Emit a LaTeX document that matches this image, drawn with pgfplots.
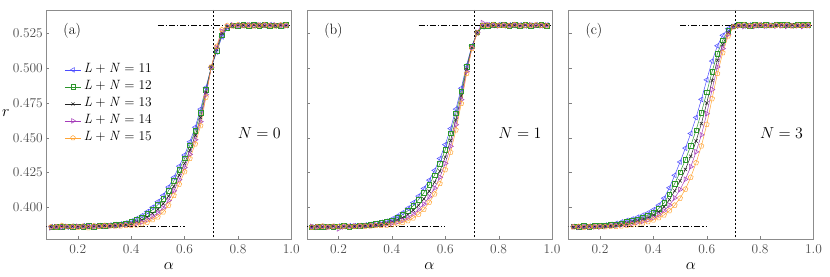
\RequirePackage{fix-cm}
\documentclass[border=0pt]{standalone}
\usepackage{pgfplots}
\usepackage{pgfplotstable}
\pgfplotsset{compat=1.18}
\definecolor{c11}{RGB}{75,75,255}
\definecolor{c12}{RGB}{45,150,45}
\definecolor{c13}{RGB}{35,35,35}
\definecolor{c14}{RGB}{165,60,185}
\definecolor{c15}{RGB}{255,165,55}
\newcommand{\LN}[1]{\textit{L}\hspace{0.25em}+\hspace{0.25em}\textit{N}\hspace{0.3em}=\hspace{0.3em}#1}

\pgfplotstableread{
x s11 s12 s13 s14 s15
0.10 .3860 .3857 .3858 .3853 .3860
0.12 .3857 .3862 .3859 .3861 .3858
0.14 .3863 .3859 .3862 .3857 .3868
0.16 .3858 .3863 .3860 .3862 .3859
0.18 .3864 .3861 .3863 .3858 .3862
0.20 .3860 .3865 .3861 .3863 .3857
0.22 .3866 .3860 .3862 .3859 .3864
0.24 .3861 .3866 .3863 .3864 .3852
0.26 .3865 .3862 .3864 .3860 .3866
0.28 .3868 .3867 .3865 .3863 .3862
0.30 .3869 .3866 .3867 .3864 .3868
0.32 .3872 .3870 .3868 .3866 .3865
0.34 .3875 .3873 .3870 .3867 .3865
0.36 .3880 .3877 .3873 .3870 .3866
0.38 .3888 .3884 .3878 .3873 .3868
0.40 .3900 .3894 .3885 .3878 .3870
0.42 .3918 .3909 .3895 .3884 .3873
0.44 .3940 .3928 .3910 .3895 .3880
0.46 .3968 .3953 .3930 .3911 .3893
0.48 .4000 .3982 .3955 .3933 .3910
0.50 .4040 .4018 .3985 .3958 .3930
0.52 .4085 .4061 .4025 .3995 .3965
0.54 .4145 .4119 .4080 .4048 .4015
0.56 .4215 .4189 .4150 .4118 .4085
0.58 .4295 .4269 .4230 .4198 .4165
0.60 .4375 .4351 .4315 .4285 .4255
0.62 .4470 .4446 .4410 .4380 .4350
0.64 .4575 .4551 .4515 .4485 .4455
0.66 .4705 .4681 .4645 .4615 .4585
0.68 .4860 .4846 .4825 .4808 .4790
0.70 .5003 .5006 .5005 .5004 .5007
0.72 .5115 .5123 .5135 .5145 .5155
0.74 .5225 .5235 .5250 .5263 .5275
0.76 .5285 .5289 .5295 .5300 .5305
0.78 .5303 .5308 .5305 .5310 .5302
0.80 .5309 .5304 .5307 .5303 .5310
0.82 .5305 .5312 .5308 .5306 .5304
0.84 .5310 .5306 .5304 .5309 .5307
0.86 .5304 .5309 .5311 .5305 .5302
0.88 .5308 .5303 .5306 .5310 .5306
0.90 .5306 .5310 .5303 .5307 .5309
0.92 .5311 .5305 .5308 .5304 .5305
0.94 .5303 .5308 .5306 .5310 .5302
0.96 .5308 .5304 .5309 .5306 .5309
0.98 .5305 .5310 .5305 .5303 .5307
}\tabA

\pgfplotstableread{
x s11 s12 s13 s14 s15
0.10 .3860 .3856 .3858 .3862 .3857
0.12 .3858 .3861 .3863 .3857 .3860
0.14 .3863 .3858 .3859 .3861 .3864
0.16 .3859 .3864 .3861 .3856 .3858
0.18 .3862 .3860 .3864 .3860 .3863
0.20 .3865 .3863 .3860 .3845 .3859
0.22 .3861 .3866 .3862 .3860 .3864
0.24 .3866 .3862 .3865 .3863 .3860
0.26 .3868 .3865 .3863 .3866 .3862
0.28 .3869 .3867 .3866 .3864 .3865
0.30 .3872 .3870 .3868 .3866 .3864
0.32 .3877 .3874 .3871 .3868 .3866
0.34 .3883 .3880 .3875 .3871 .3868
0.36 .3891 .3887 .3880 .3875 .3869
0.38 .3900 .3894 .3885 .3878 .3870
0.40 .3915 .3907 .3895 .3885 .3875
0.42 .3936 .3925 .3908 .3894 .3881
0.44 .3960 .3946 .3925 .3908 .3890
0.46 .3993 .3975 .3948 .3926 .3903
0.48 .4033 .4011 .3978 .3951 .3923
0.50 .4080 .4054 .4015 .3983 .3950
0.52 .4135 .4105 .4060 .4023 .3985
0.54 .4195 .4163 .4115 .4075 .4035
0.56 .4265 .4231 .4180 .4138 .4095
0.58 .4350 .4314 .4260 .4215 .4170
0.60 .4450 .4414 .4360 .4315 .4270
0.62 .4565 .4531 .4480 .4438 .4395
0.64 .4705 .4675 .4630 .4593 .4555
0.66 .4855 .4833 .4800 .4773 .4745
0.68 .5020 .5008 .4990 .4975 .4960
0.70 .5160 .5156 .5150 .5145 .5140
0.72 .5253 .5258 .5255 .5257 .5252
0.74 .5297 .5302 .5300 .5325 .5305
0.76 .5310 .5305 .5308 .5312 .5306
0.78 .5306 .5310 .5304 .5308 .5311
0.80 .5311 .5307 .5309 .5303 .5306
0.82 .5304 .5309 .5306 .5310 .5308
0.84 .5309 .5303 .5311 .5305 .5304
0.86 .5305 .5310 .5307 .5309 .5311
0.88 .5310 .5306 .5304 .5306 .5303
0.90 .5303 .5309 .5310 .5304 .5308
0.92 .5308 .5304 .5306 .5311 .5305
0.94 .5311 .5307 .5303 .5306 .5310
0.96 .5305 .5311 .5308 .5304 .5306
0.98 .5309 .5305 .5310 .5308 .5303
}\tabB

\pgfplotstableread{
x s11 s12 s13 s14 s15
0.10 .3862 .3864 .3857 .3861 .3858
0.12 .3860 .3858 .3863 .3856 .3862
0.14 .3864 .3866 .3861 .3859 .3857
0.16 .3863 .3860 .3865 .3857 .3861
0.18 .3866 .3867 .3862 .3860 .3859
0.20 .3868 .3866 .3864 .3858 .3862
0.22 .3872 .3870 .3865 .3862 .3860
0.24 .3877 .3873 .3870 .3866 .3864
0.26 .3884 .3878 .3873 .3867 .3862
0.28 .3894 .3886 .3879 .3873 .3866
0.30 .3905 .3895 .3887 .3878 .3870
0.32 .3915 .3904 .3894 .3884 .3874
0.34 .3928 .3915 .3903 .3892 .3880
0.36 .3943 .3927 .3914 .3900 .3887
0.38 .3960 .3942 .3927 .3911 .3896
0.40 .3982 .3961 .3944 .3926 .3908
0.42 .4015 .3990 .3968 .3947 .3925
0.44 .4065 .4031 .4003 .3974 .3945
0.46 .4140 .4094 .4054 .4015 .3975
0.48 .4230 .4170 .4118 .4067 .4015
0.50 .4325 .4252 .4190 .4127 .4065
0.52 .4425 .4342 .4272 .4201 .4130
0.54 .4530 .4442 .4366 .4291 .4215
0.56 .4645 .4554 .4476 .4398 .4320
0.58 .4775 .4681 .4601 .4520 .4440
0.60 .4915 .4825 .4749 .4672 .4595
0.62 .5050 .4974 .4910 .4845 .4780
0.64 .5160 .5104 .5056 .5008 .4960
0.66 .5235 .5200 .5170 .5140 .5110
0.68 .5282 .5267 .5255 .5242 .5230
0.70 .5302 .5300 .5304 .5298 .5295
0.72 .5307 .5310 .5306 .5302 .5305
0.74 .5304 .5312 .5308 .5299 .5309
0.76 .5309 .5306 .5303 .5305 .5302
0.78 .5305 .5311 .5309 .5300 .5307
0.80 .5310 .5307 .5304 .5306 .5310
0.82 .5303 .5313 .5310 .5301 .5305
0.84 .5308 .5308 .5305 .5307 .5303
0.86 .5311 .5314 .5307 .5302 .5308
0.88 .5306 .5309 .5311 .5304 .5304
0.90 .5309 .5312 .5306 .5300 .5309
0.92 .5304 .5308 .5309 .5305 .5302
0.94 .5310 .5313 .5304 .5303 .5307
0.96 .5307 .5309 .5310 .5299 .5305
0.98 .5305 .5311 .5306 .5304 .5308
}\tabC

\pgfplotsset{
  panel/.style={
    scale only axis, width=245bp, height=229bp,
    xmin=0.082, xmax=1.0, ymin=0.3772, ymax=0.5417,
    xtick={0.2,0.4,0.6,0.8,1.0},
    ytick={0.400,0.425,0.450,0.475,0.500,0.525},
    xticklabel style={/pgf/number format/fixed, /pgf/number format/fixed zerofill, /pgf/number format/precision=1, /pgf/number format/assume math mode=true, yshift=-2bp},
    yticklabel style={/pgf/number format/fixed, /pgf/number format/fixed zerofill, /pgf/number format/precision=3, /pgf/number format/assume math mode=true},
    tick label style={font=\fontsize{13.5}{15}\selectfont, text=black!70},
    axis line style={black!45},
    tick style={black!50},
    major tick length=3bp,
    tick align=inside,
    xtick pos=bottom, ytick pos=left,
    xlabel={$\alpha$},
    xlabel style={font=\fontsize{16}{18}\selectfont, at={(axis description cs:0.5,-0.118)}, anchor=center},
    clip=true,
  },
  s11/.style={c11, line width=0.5bp, mark=triangle, mark size=2.8bp, mark options={solid, rotate=90, fill=c11, fill opacity=0.08}},
  s12/.style={c12, line width=0.5bp, mark=square, mark size=2.3bp, mark options={solid, fill=c12, fill opacity=0.08}},
  s13/.style={c13, line width=0.5bp, mark=x, mark size=2.3bp, mark options={solid}},
  s14/.style={c14, line width=0.5bp, mark=triangle, mark size=2.8bp, mark options={solid, rotate=-90, fill=c14, fill opacity=0.08}},
  s15/.style={c15, line width=0.5bp, mark=pentagon, mark size=2.6bp, mark options={solid, fill=c15, fill opacity=0.08}},
  dd/.style={black, line width=0.8bp, dash pattern=on 6bp off 2bp on 1.2bp off 2bp},
  vd/.style={black, line width=0.6bp, dash pattern=on 2.5bp off 1.5bp},
}

\begin{document}
\begin{tikzpicture}
\useasboundingbox (0,0) rectangle (830bp,277bp);

% Panel (a)
\begin{axis}[panel, at={(46.3bp,38bp)}, anchor=south west,
  ylabel={$r$},
  ylabel style={font=\fontsize{16}{18}\selectfont, rotate=-90, at={(axis description cs:-0.165,0.55)}, anchor=center},
  legend style={font=\fontsize{13.5}{15}\selectfont, draw=none, fill=none, at={(0.062,0.785)}, anchor=north west,
    nodes={inner sep=2.5bp, text height=9bp, text depth=3bp}},
  legend image post style={scale=0.95},
  legend cell align=left]
\addplot[dd, forget plot] coordinates {(0.05,0.3863) (0.6,0.3863)};
\addplot[dd, forget plot] coordinates {(0.5,0.5307) (1.0,0.5307)};
\addplot[vd, forget plot] coordinates {(0.7071,0.37) (0.7071,0.55)};
\addplot[s11] table[x=x,y=s11] {\tabA};
\addplot[s12] table[x=x,y=s12] {\tabA};
\addplot[s13] table[x=x,y=s13] {\tabA};
\addplot[s14] table[x=x,y=s14] {\tabA};
\addplot[s15] table[x=x,y=s15] {\tabA};
\legend{\LN{11},\LN{12},\LN{13},\LN{14},\LN{15}}
\node[font=\fontsize{15}{18}\selectfont] at (axis cs:0.179,0.5266) {(a)};
\node[font=\fontsize{16}{19}\selectfont] at (axis cs:0.88,0.4535) {$N=0$};
\end{axis}

% Panel (b)
\begin{axis}[panel, at={(307bp,38bp)}, anchor=south west, yticklabels={}]
\addplot[dd] coordinates {(0.05,0.3863) (0.6,0.3863)};
\addplot[dd] coordinates {(0.5,0.5307) (1.0,0.5307)};
\addplot[vd] coordinates {(0.7071,0.37) (0.7071,0.55)};
\addplot[s11] table[x=x,y=s11] {\tabB};
\addplot[s12] table[x=x,y=s12] {\tabB};
\addplot[s13] table[x=x,y=s13] {\tabB};
\addplot[s14] table[x=x,y=s14] {\tabB};
\addplot[s15] table[x=x,y=s15] {\tabB};
\node[font=\fontsize{15}{18}\selectfont] at (axis cs:0.181,0.5266) {(b)};
\node[font=\fontsize{16}{19}\selectfont] at (axis cs:0.88,0.4535) {$N=1$};
\end{axis}

% Panel (c)
\begin{axis}[panel, at={(568.5bp,38bp)}, anchor=south west, yticklabels={}]
\addplot[dd] coordinates {(0.05,0.3863) (0.6,0.3863)};
\addplot[dd] coordinates {(0.5,0.5307) (1.0,0.5307)};
\addplot[vd] coordinates {(0.7071,0.37) (0.7071,0.55)};
\addplot[s11] table[x=x,y=s11] {\tabC};
\addplot[s12] table[x=x,y=s12] {\tabC};
\addplot[s13] table[x=x,y=s13] {\tabC};
\addplot[s14] table[x=x,y=s14] {\tabC};
\addplot[s15] table[x=x,y=s15] {\tabC};
\node[font=\fontsize{15}{18}\selectfont] at (axis cs:0.177,0.5266) {(c)};
\node[font=\fontsize{16}{19}\selectfont] at (axis cs:0.88,0.4535) {$N=3$};
\end{axis}
\end{tikzpicture}
\end{document}
